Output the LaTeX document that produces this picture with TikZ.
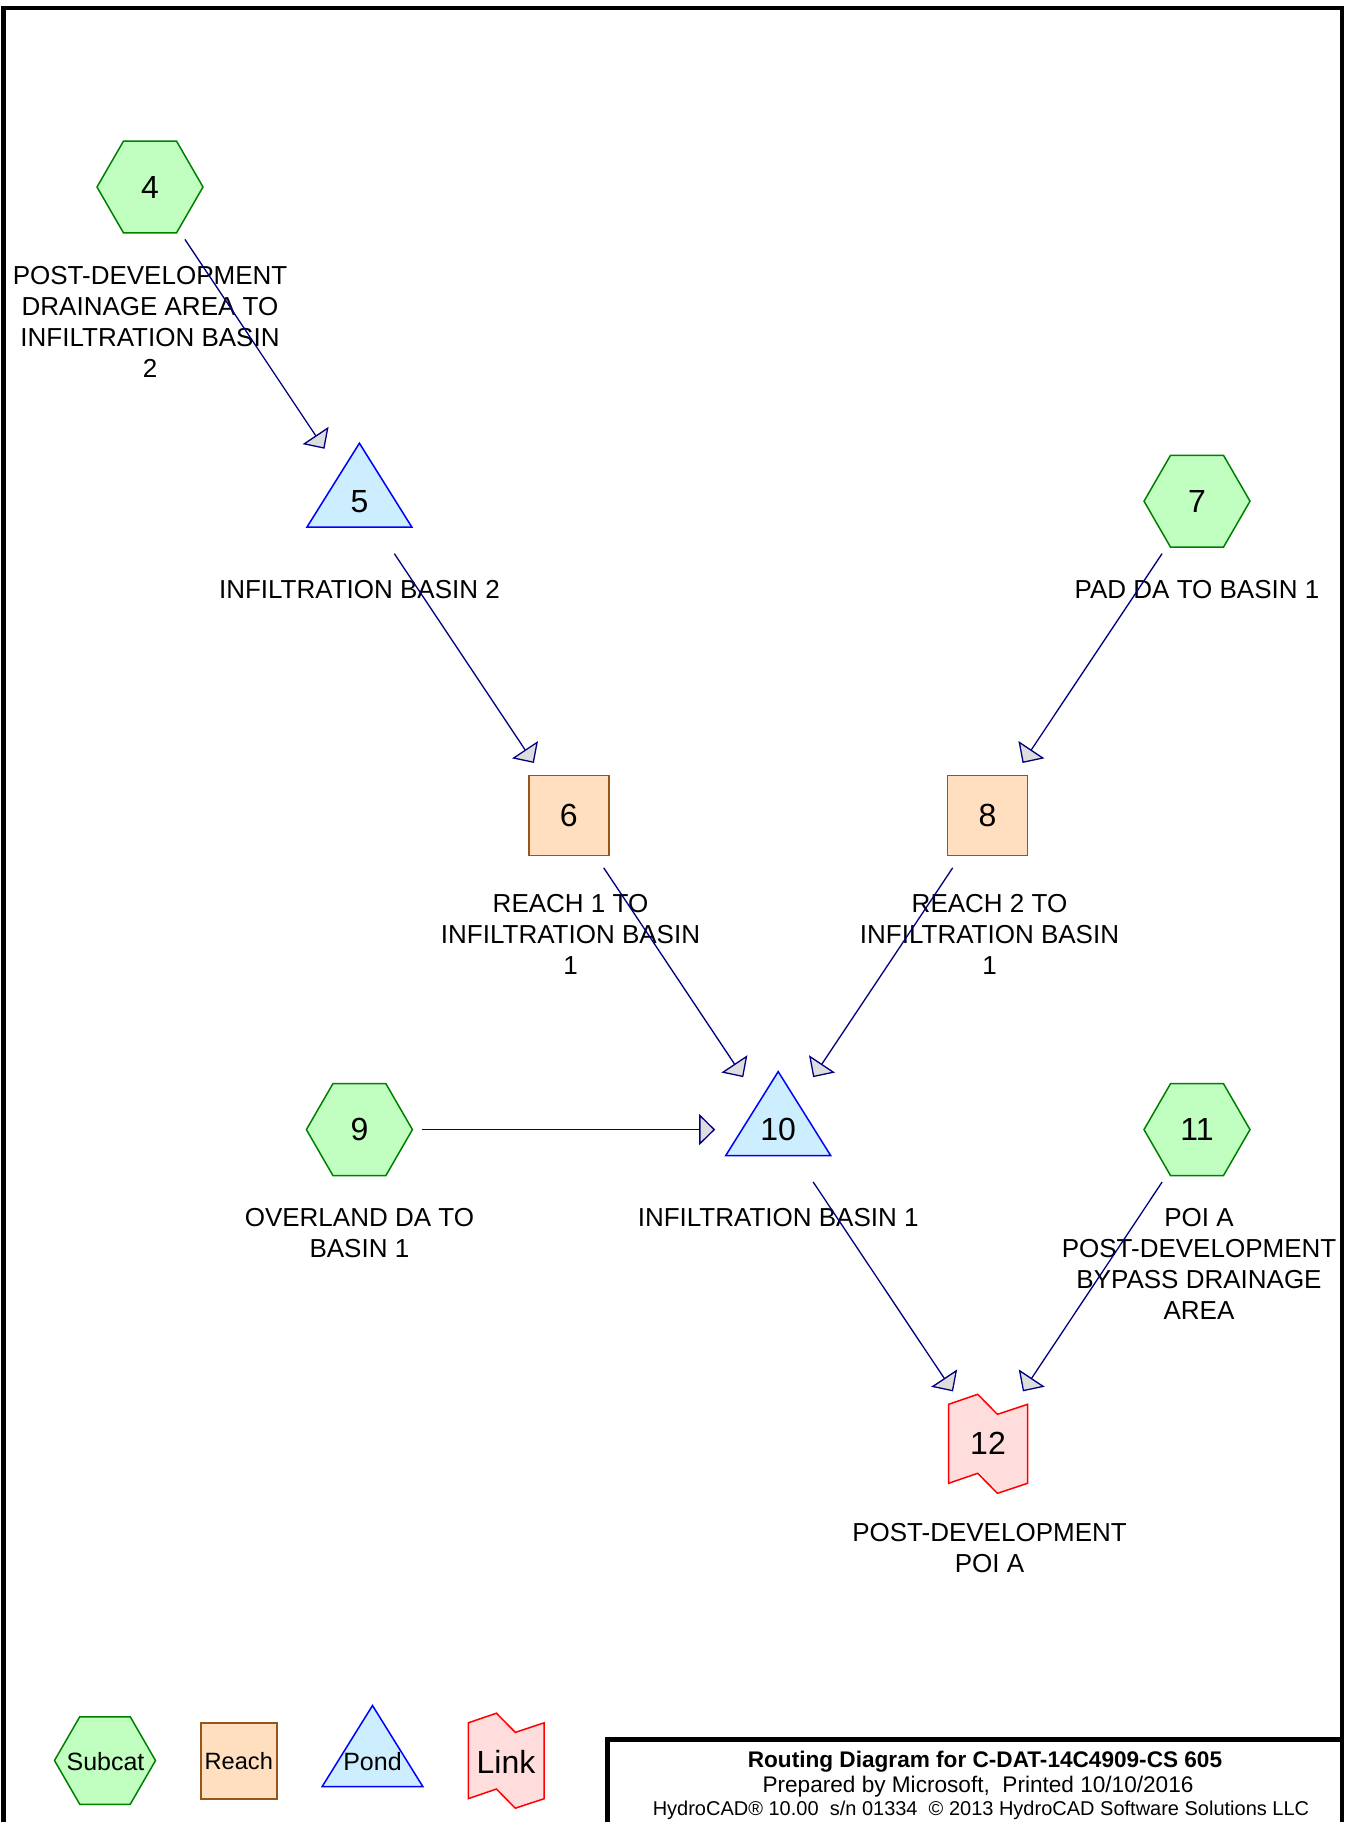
\documentclass[tikz,border=0pt]{standalone}
\usepackage{fontspec}
\setmainfont{Liberation Sans}
\usetikzlibrary{arrows.meta}
\definecolor{subfill}{RGB}{192,255,192}
\definecolor{subline}{RGB}{0,128,0}
\definecolor{reachfill}{RGB}{255,223,191}
\definecolor{reachline}{RGB}{150,85,25}
\definecolor{pondfill}{RGB}{204,238,255}
\definecolor{pondline}{RGB}{0,0,255}
\definecolor{linkfill}{RGB}{255,221,221}
\definecolor{linkline}{RGB}{255,0,0}
\definecolor{arrowline}{RGB}{0,0,128}
\definecolor{tipfill}{RGB}{221,221,221}
\newcommand\HCsub[3]{\draw[subcat] ({#1-#3},#2) -- ({#1-#3/2},{#2-0.866*#3}) -- ({#1+#3/2},{#2-0.866*#3}) -- ({#1+#3},#2) -- ({#1+#3/2},{#2+0.866*#3}) -- ({#1-#3/2},{#2+0.866*#3}) -- cycle;}
\newcommand\HCreach[3]{\draw[reach] ({#1-#3},{#2-#3}) rectangle ({#1+#3},{#2+#3});}
\newcommand\HCpond[5]{\draw[pond] (#1,{#2-#4}) -- ({#1+#3},{#2+#5}) -- ({#1-#3},{#2+#5}) -- cycle;}
\newcommand\HClink[3]{\begin{scope}[shift={(#1,#2)},scale=#3]
\draw[link] (-39.5,-39.5) -- (-10.3,-49.5) -- (9.4,-29.5) -- (39.5,-39.5) -- (39.5,39.5) -- (9.4,49.5) -- (-10.3,29.5) -- (-39.5,39.5) -- cycle;
\end{scope}}
\begin{document}
\begin{tikzpicture}[x=1pt,y=-1pt,
  subcat/.style={draw=subline,fill=subfill,line width=1.5pt,line join=miter},
  reach/.style={draw=reachline,fill=reachfill,line width=1.5pt},
  pond/.style={draw=pondline,fill=pondfill,line width=1.5pt},
  link/.style={draw=linkline,fill=linkfill,line width=1.5pt},
  frame/.style={draw=black,line width=4.5pt},
  num/.style={font=\fontsize{32}{38}\selectfont,inner sep=0pt},
  lbl/.style={font=\fontsize{26}{31}\selectfont,align=center,anchor=north,inner sep=0pt},
  legtxt/.style={font=\fontsize{25}{30}\selectfont,inner sep=0pt},
  flow/.style={draw=arrowline,line width=1.3pt,shorten <=63pt,shorten >=63pt,
    -{Triangle[length=16pt,width=31pt,fill=tipfill]}},
]
\useasboundingbox (0,0) rectangle (1345,1822);
\clip (0,0) rectangle (1345,1822);

% frames
\draw[frame] (3.5,1840) -- (3.5,8) -- (1342,8) -- (1342,1840);
\draw[frame,line width=5pt] (607,1840) -- (607,1739) -- (1342,1739);

% shapes
\HCsub{150}{187}{53}
\HCpond{359.4}{501.2}{52.5}{58}{26}
\HCreach{568.8}{815.4}{40}
\HCsub{1197}{501.2}{53}
\HCreach{987.6}{815.4}{40}
\HCsub{359.4}{1129.6}{53}
\HCpond{778.2}{1129.6}{52.5}{58}{26}
\HCsub{1197}{1129.6}{53}
\HClink{988}{1443.8}{1}

% numbers
\node[num] (n4) at (150,187) {4};
\node[num] (n5) at (359.4,501.2) {5};
\node[num] (n6) at (568.8,815.4) {6};
\node[num] (n7) at (1197,501.2) {7};
\node[num] (n8) at (987.6,815.4) {8};
\node[num] (n9) at (359.4,1129.6) {9};
\node[num] (n10) at (778.2,1129.6) {10};
\node[num] (n11) at (1197,1129.6) {11};
\node[num] (n12) at (988,1443.8) {12};

% labels
\node[lbl] (l4) at (150,266) {POST-DEVELOPMENT\\DRAINAGE AREA TO\\INFILTRATION BASIN\\2};
\node[lbl] (l5) at (359.4,580.2) {INFILTRATION BASIN 2};
\node[lbl] (l7) at (1197,580.2) {PAD DA TO BASIN 1};
\node[lbl] (l6) at (570.5,894.4) {REACH 1 TO\\INFILTRATION BASIN\\1};
\node[lbl] (l8) at (989.5,894.4) {REACH 2 TO\\INFILTRATION BASIN\\1};
\node[lbl] (l9) at (359.4,1208.6) {OVERLAND DA TO\\BASIN 1};
\node[lbl] (l10) at (778.2,1208.6) {INFILTRATION BASIN 1};
\node[lbl] (l11) at (1199,1208.6) {POI A\\POST-DEVELOPMENT\\BYPASS DRAINAGE\\AREA};
\node[lbl] (l12) at (989.5,1522.8) {POST-DEVELOPMENT\\POI A};

% connectors
\draw[flow] (n4.center) -- (n5.center);
\draw[flow] (n5.center) -- (n6.center);
\draw[flow] (n7.center) -- (n8.center);
\draw[flow] (n6.center) -- (n10.center);
\draw[flow] (n8.center) -- (n10.center);
\draw[flow] (n9.center) -- (n10.center);
\draw[flow] (n10.center) -- (n12.center);
\draw[flow] (n11.center) -- (n12.center);

% legend
\HCsub{105}{1760.5}{50.5}
\HCreach{238.8}{1760.8}{38}
\HCpond{372.5}{1760}{50.3}{54.5}{26.5}
\HClink{506.3}{1760.7}{0.96}
\node[legtxt] (lgsub) at (105.5,1761.5) {Subcat};
\node[legtxt,font=\fontsize{23.6}{28}\selectfont] (lgreach) at (238.8,1761.5) {Reach};
\node[legtxt] (lgpond) at (372.5,1762) {Pond};
\node[legtxt,font=\fontsize{32}{38}\selectfont] (lglink) at (506,1761.5) {Link};

% title block
\node[inner sep=0pt,anchor=base,font=\bfseries\fontsize{22.6}{27}\selectfont] (t1) at (985,1767) {Routing Diagram for C-DAT-14C4909-CS 605};
\node[inner sep=0pt,anchor=base,font=\fontsize{22.6}{27}\selectfont] (t2) at (978,1792) {Prepared by Microsoft,\ \ Printed 10/10/2016};
\node[inner sep=0pt,anchor=base,font=\fontsize{20}{24}\selectfont] (t3) at (981,1815.5) {HydroCAD® 10.00\ \ s/n 01334\ \ © 2013 HydroCAD Software Solutions LLC};
\end{tikzpicture}
\end{document}
